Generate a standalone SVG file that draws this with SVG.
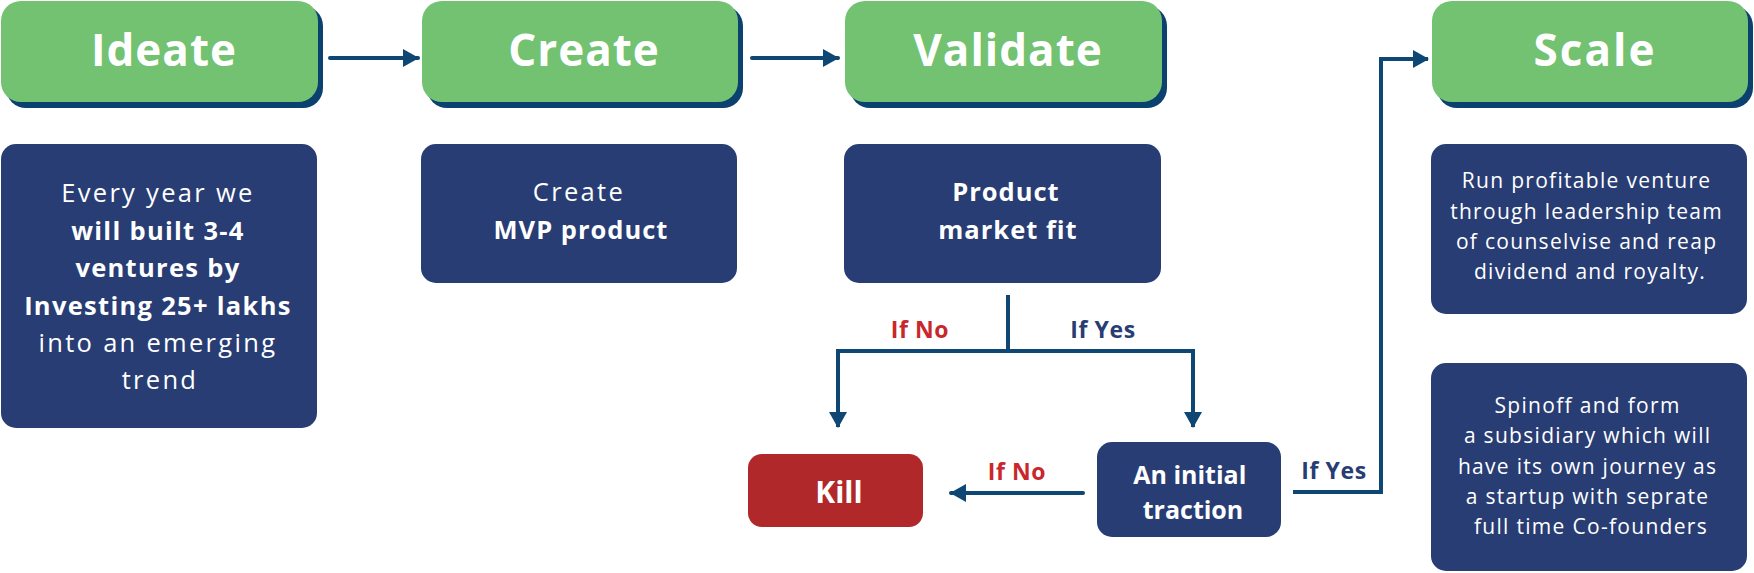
<svg xmlns="http://www.w3.org/2000/svg" width="1754" height="573" viewBox="0 0 1754 573">
<style>
.hdr{fill:#72C272}
.shd{fill:#0B416F}
.box{fill:#283D73}
.kill{fill:#B0282A}
.ht{font-family:"Open Sans","Liberation Sans",sans-serif;font-weight:700;font-size:44px;fill:#fff;text-anchor:middle;letter-spacing:1px}
.t{font-family:"Open Sans","Liberation Sans",sans-serif;fill:#fff;text-anchor:middle}
.r25{font-size:25.5px;letter-spacing:2.3px}
.b25{font-size:25.5px;font-weight:700;letter-spacing:1.3px}
.r21{font-size:21px;letter-spacing:1.3px}
.lbl{font-family:"Open Sans","Liberation Sans",sans-serif;font-weight:700;font-size:23px;text-anchor:middle;letter-spacing:0.6px}
.con{fill:none;stroke:#0E4674;stroke-width:4}
</style>
<defs>
<marker id="ah" viewBox="0 0 16 18" refX="15" refY="9" markerWidth="16" markerHeight="18" markerUnits="userSpaceOnUse" orient="auto">
<path d="M0,0 L16,9 L0,18 Z" fill="#0E4674"/>
</marker>
</defs>
<rect width="1754" height="573" fill="#fff"/>

<g id="ideate">
<rect class="shd" x="6" y="6" width="317" height="102" rx="20"/>
<rect class="hdr" x="1" y="1" width="317" height="101" rx="20"/>
<text class="ht" x="164" y="66">Ideate</text>
</g>
<g id="create">
<rect class="shd" x="427" y="6" width="316" height="102" rx="20"/>
<rect class="hdr" x="422" y="1" width="316" height="101" rx="20"/>
<text class="ht" x="584" y="66">Create</text>
</g>
<g id="validate">
<rect class="shd" x="850" y="6" width="317" height="102" rx="20"/>
<rect class="hdr" x="845" y="1" width="317" height="101" rx="20"/>
<text class="ht" x="1008" y="66">Validate</text>
</g>
<g id="scale">
<rect class="shd" x="1437" y="6" width="316" height="102" rx="20"/>
<rect class="hdr" x="1432" y="1" width="316" height="101" rx="20"/>
<text class="ht" x="1595" y="66" style="letter-spacing:2px">Scale</text>
</g>

<g id="ideate-desc">
<rect class="box" x="1" y="144" width="316" height="284" rx="15"/>
<text class="t">
<tspan class="r25" x="160" y="202">Every year we</tspan>
<tspan class="b25" x="160" y="240">will built 3-4</tspan>
<tspan class="b25" x="160" y="277">ventures by</tspan>
<tspan class="b25" x="160" y="315">Investing 25+ lakhs</tspan>
<tspan class="r25" x="160" y="352">into an emerging</tspan>
<tspan class="r25" x="160" y="389">trend</tspan>
</text>
</g>
<g id="create-desc">
<rect class="box" x="421" y="144" width="316" height="139" rx="15"/>
<text class="t">
<tspan class="r25" x="581" y="201">Create</tspan>
<tspan class="b25" x="581" y="239" style="letter-spacing:1px">MVP product</tspan>
</text>
</g>
<g id="pmf">
<rect class="box" x="844" y="144" width="317" height="139" rx="15"/>
<text class="t">
<tspan class="b25" x="1008" y="201" style="letter-spacing:1px">Product</tspan>
<tspan class="b25" x="1008" y="239" style="letter-spacing:1px">market fit</tspan>
</text>
</g>
<g id="scale-desc">
<rect class="box" x="1431" y="144" width="316" height="170" rx="15"/>
<text class="t r21">
<tspan x="1590" y="188">Run profitable venture</tspan>
<tspan x="1590" y="219">through leadership team</tspan>
<tspan x="1590" y="249">of counselvise and reap</tspan>
<tspan x="1590" y="279">dividend and royalty.</tspan>
</text>
</g>
<g id="spinoff">
<rect class="box" x="1431" y="363" width="316" height="208" rx="15"/>
<text class="t r21">
<tspan x="1591" y="413">Spinoff and form</tspan>
<tspan x="1591" y="443">a subsidiary which will</tspan>
<tspan x="1591" y="474">have its own journey as</tspan>
<tspan x="1591" y="504">a startup with seprate</tspan>
<tspan x="1591" y="534">full time Co-founders</tspan>
</text>
</g>
<g id="kill">
<rect class="kill" x="748" y="454" width="175" height="73" rx="14"/>
<text class="t" font-weight="700" font-size="30" x="839" y="503">Kill</text>
</g>
<g id="traction">
<rect class="box" x="1097" y="442" width="184" height="95" rx="15"/>
<text class="t" font-weight="700" font-size="25">
<tspan x="1193" y="484">An initial</tspan>
<tspan x="1193" y="519">traction</tspan>
</text>
</g>

<g id="connectors">
<path class="con" d="M330,58 H418" stroke-linecap="round" marker-end="url(#ah)"/>
<path class="con" d="M752,58 H838" stroke-linecap="round" marker-end="url(#ah)"/>
<path class="con" d="M1008,295 V351"/>
<path class="con" d="M1010,351 H838 V427" marker-end="url(#ah)"/>
<path class="con" d="M1006,351 H1193 V427" marker-end="url(#ah)"/>
<path class="con" d="M1083,493 H951" stroke-linecap="round" marker-end="url(#ah)"/>
<path class="con" d="M1293,492 H1381 V59 H1428" marker-end="url(#ah)"/>
<text class="lbl" x="920" y="338" fill="#C9272C">If No</text>
<text class="lbl" x="1103" y="338" fill="#283D73">If Yes</text>
<text class="lbl" x="1017" y="480" fill="#C9272C">If No</text>
<text class="lbl" x="1334" y="479" fill="#283D73">If Yes</text>
</g>
</svg>
